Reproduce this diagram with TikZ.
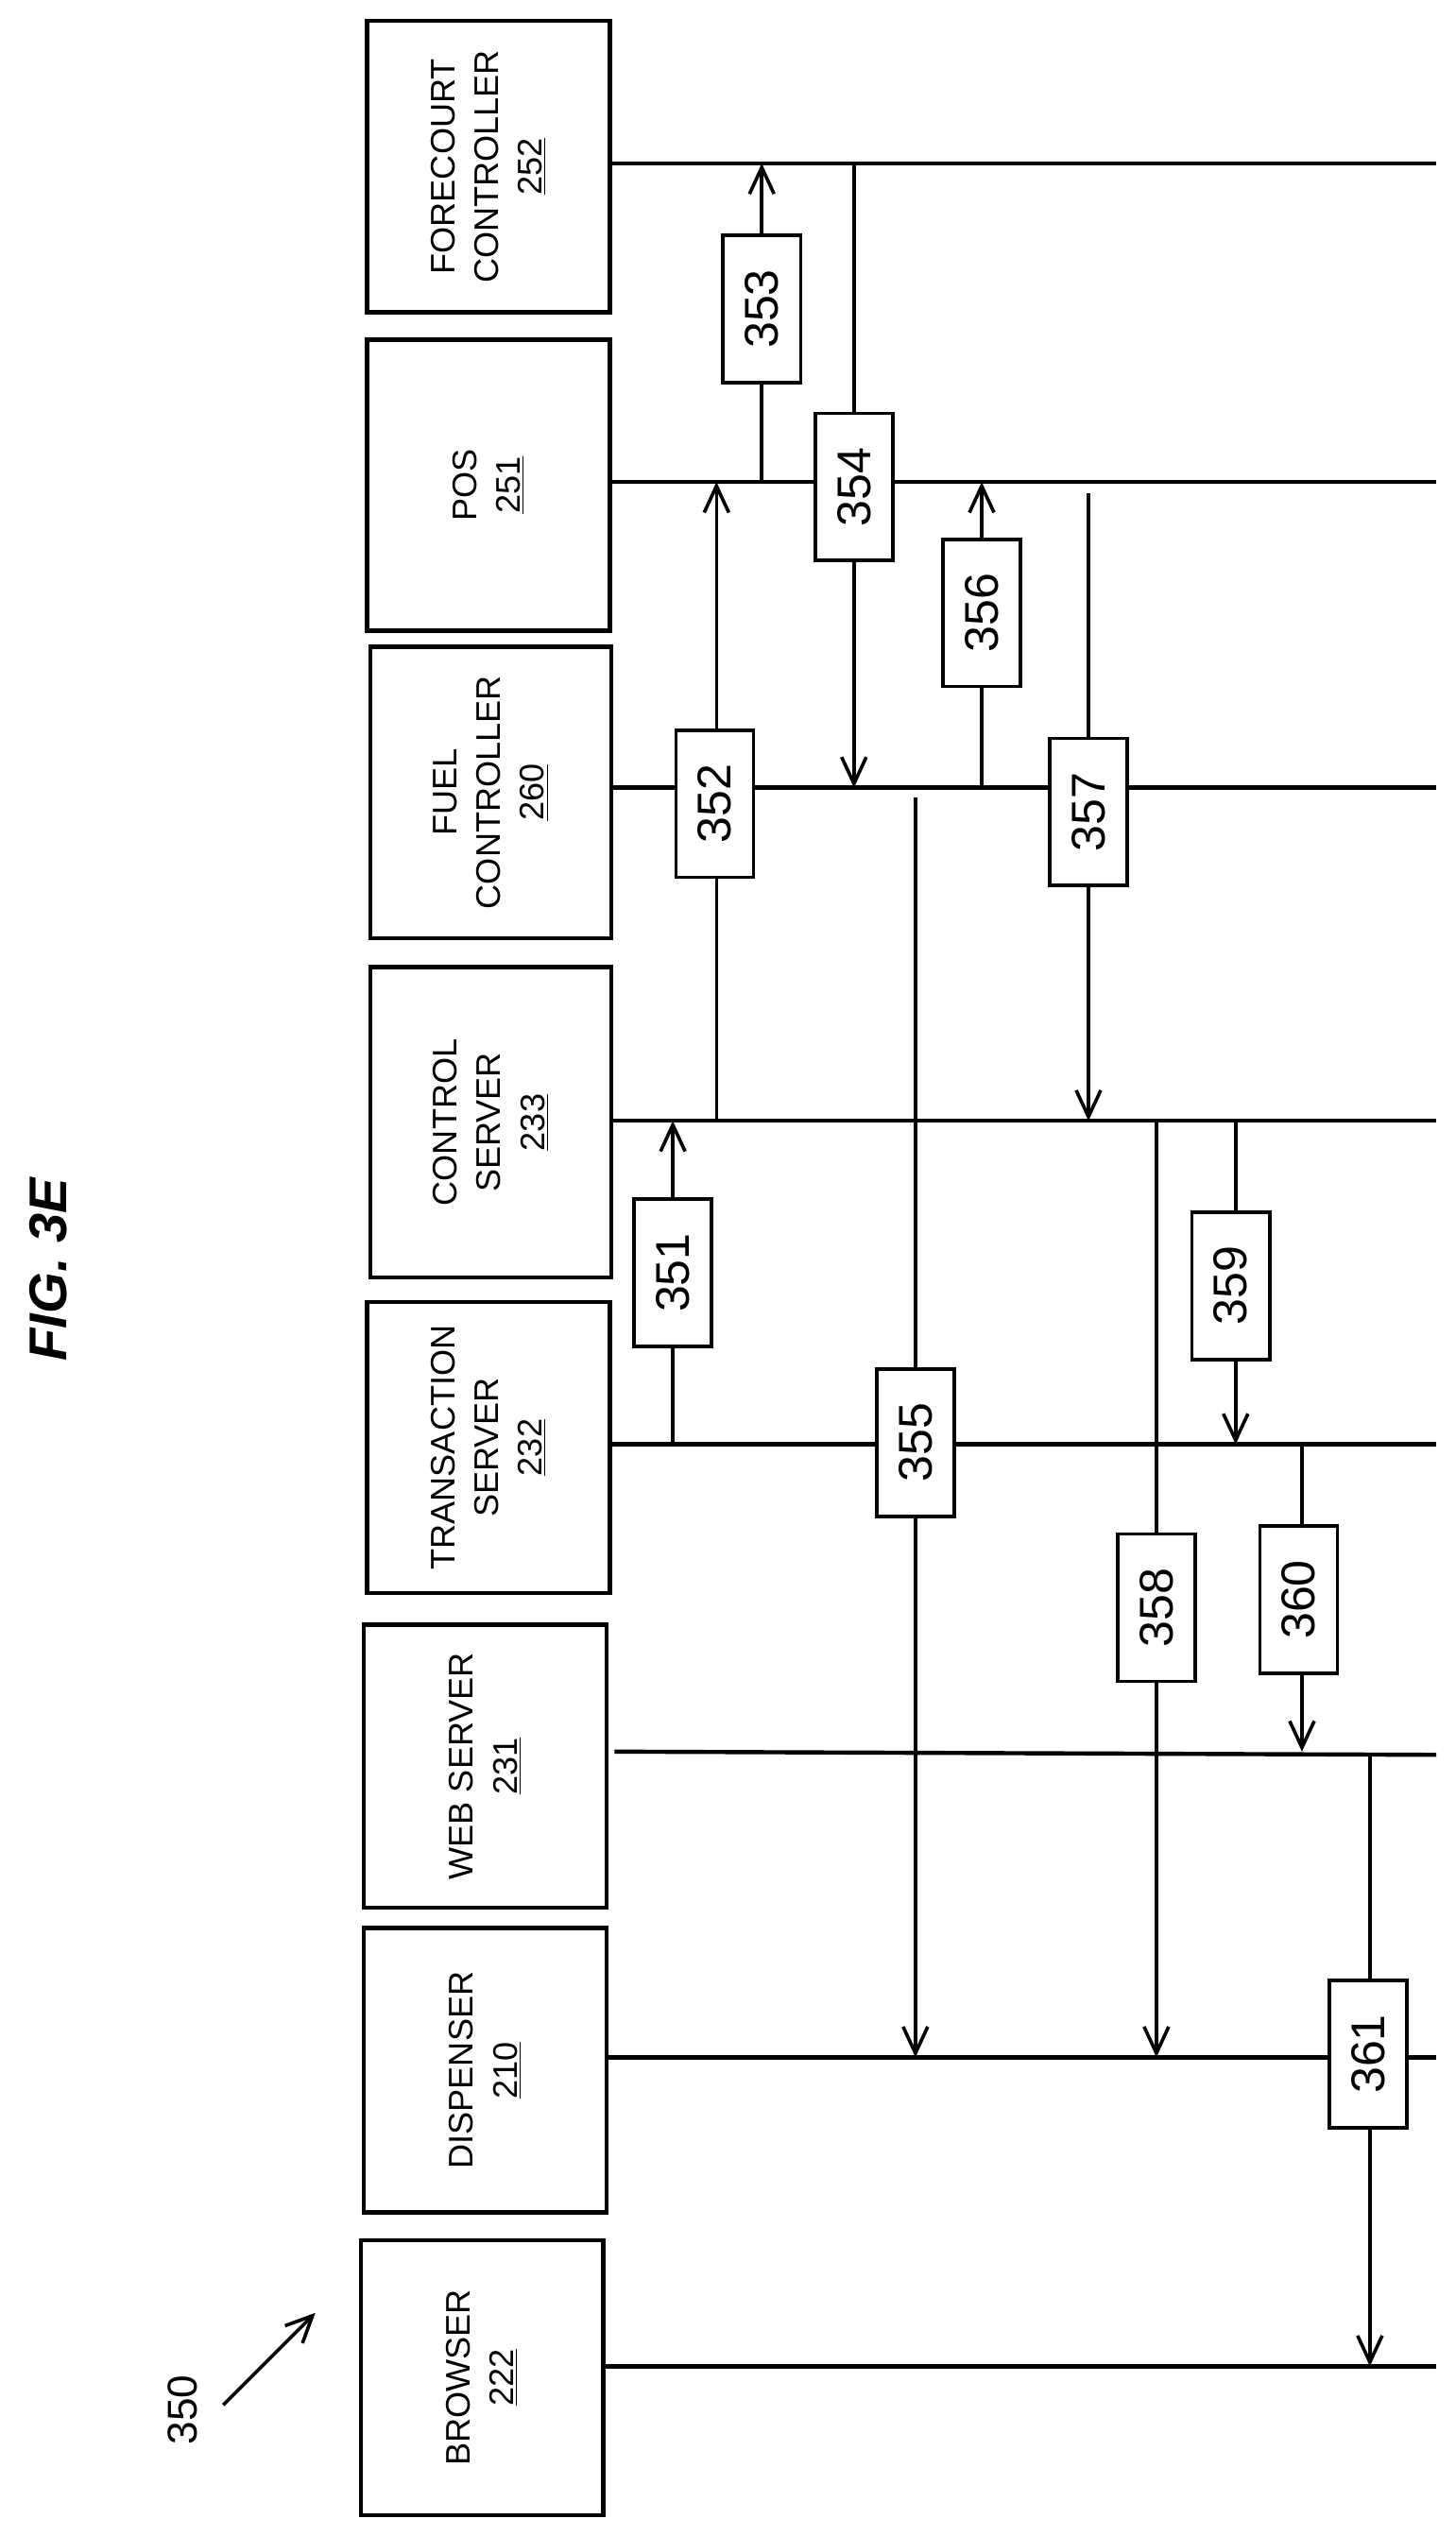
\documentclass[tikz,border=0pt]{standalone}
\usepackage{fontspec}
\setmainfont{Liberation Sans}
\usetikzlibrary{arrows.meta}
\begin{document}
\begin{tikzpicture}[x=0.03cm,y=-0.03cm,
  ent/.style={draw,line width=2.2pt,rotate=90,align=center,font=\fontsize{18}{23}\selectfont,inner sep=0pt},
  msg/.style={draw,line width=1.8pt,fill=white,rotate=90,minimum height=48*0.03cm,minimum width=91*0.03cm,inner sep=0pt,font=\fontsize{25}{28}\selectfont},
  life/.style={line width=2.2pt},
  arr/.style={line width=1.8pt,-{Straight Barb[length=14pt,width=13pt,line width=1.8pt]}},
  ln/.style={line width=1.8pt}]
\useasboundingbox (0,0) rectangle (900,1568);
\node[rotate=90,font=\bfseries\itshape\fontsize{28}{32}\selectfont] (title) at (30,785) {FIG. 3E};
\node[rotate=90,font=\fontsize{22}{26}\selectfont] (n350) at (113,1490) {350};
\coordinate (a350s) at (138,1487); \coordinate (a350e) at (195,1430);
\draw[arr] (a350s) -- (a350e);
% entities
\node[ent,minimum width=180*0.03cm,minimum height=150*0.03cm] (fc) at (302,103) {FORECOURT\\CONTROLLER\\\underline{252}};
\node[ent,minimum width=180*0.03cm,minimum height=150*0.03cm] (pos) at (302,300) {POS\\\underline{251}};
\node[ent,minimum width=180*0.03cm,minimum height=149*0.03cm] (fuel) at (303.5,490) {FUEL\\CONTROLLER\\\underline{260}};
\node[ent,minimum width=192*0.03cm,minimum height=149*0.03cm] (cs) at (303.5,694) {CONTROL\\SERVER\\\underline{233}};
\node[ent,minimum width=180*0.03cm,minimum height=150*0.03cm] (ts) at (302,895) {TRANSACTION\\SERVER\\\underline{232}};
\node[ent,minimum width=175*0.03cm,minimum height=150*0.03cm] (ws) at (300,1092) {WEB SERVER\\\underline{231}};
\node[ent,minimum width=176*0.03cm,minimum height=150*0.03cm] (disp) at (300,1280) {DISPENSER\\\underline{210}};
\node[ent,minimum width=170*0.03cm,minimum height=150*0.03cm] (br) at (298,1470) {BROWSER\\\underline{222}};
% lifelines
\coordinate (fcE) at (888,101); \coordinate (posE) at (888,298); \coordinate (fuelE) at (888,487);
\coordinate (csE) at (888,693); \coordinate (tsE) at (888,893); \coordinate (wsE) at (888,1085);
\coordinate (dispE) at (888,1272); \coordinate (brE) at (888,1463);
\draw[life] (377,101) -- (fcE);
\draw[life] (377,298) -- (posE);
\draw[life] (378,487) -- (fuelE);
\draw[life] (378,693) -- (csE);
\draw[life] (377,893) -- (tsE);
\draw[life] (380,1083) -- (wsE);
\draw[life] (375,1272) -- (dispE);
\draw[life] (373,1463) -- (brE);
% messages
\draw[arr] (416,893) -- (416,693); \node[msg] (m351) at (416,787) {351};
\draw[arr] (443,693) -- (443,298); \node[msg] (m352) at (442,497) {352};
\draw[arr] (471,298) -- (471,101); \node[msg] (m353) at (471,191) {353};
\draw[arr] (528,101) -- (528,487); \node[msg] (m354) at (528,301) {354};
\draw[arr] (607,487) -- (607,298); \node[msg] (m356) at (607,379) {356};
\draw[arr] (673,305) -- (673,693); \node[msg] (m357) at (673,502) {357};
\draw[arr] (566,493) -- (566,1272); \node[msg] (m355) at (566,892) {355};
\draw[arr] (715,693) -- (715,1272); \node[msg] (m358) at (715,994) {358};
\draw[arr] (764,693) -- (764,893); \node[msg] (m359) at (761,795) {359};
\draw[arr] (805,893) -- (805,1083); \node[msg] (m360) at (803,989) {360};
\draw[arr] (847,1086) -- (847,1463); \node[msg] (m361) at (846,1270) {361};
\end{tikzpicture}
\end{document}
